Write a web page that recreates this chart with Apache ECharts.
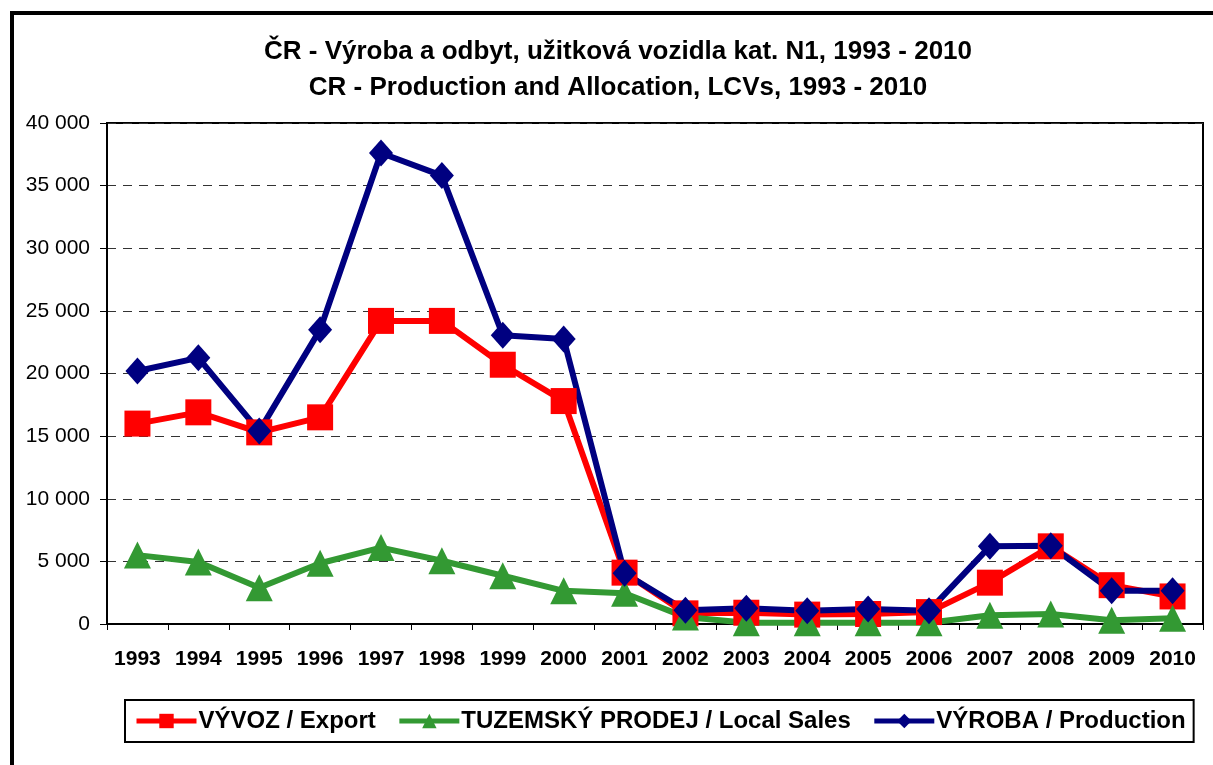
<!DOCTYPE html>
<html><head><meta charset="utf-8">
<script src="https://cdn.jsdelivr.net/npm/echarts@6/dist/echarts.min.js"></script>
<style>html,body{margin:0;padding:0;background:#fff;}#c{width:1213px;height:765px;}</style>
</head><body><div id="c"></div>
<script>
const years = ['1993','1994','1995','1996','1997','1998','1999','2000','2001','2002','2003','2004','2005','2006','2007','2008','2009','2010'];
const exportVals = [16000,16900,15300,16500,24200,24200,20700,17800,4100,850,900,750,800,950,3300,6200,3100,2200];
const localSales = [5500,4950,2900,4850,6100,5050,3850,2650,2450,550,100,100,100,100,700,800,300,450];
const production = [20200,21250,15400,23500,37600,35800,23050,22750,4050,1100,1250,1050,1200,1050,6200,6250,2650,2650];
const seriesNames = ['VÝVOZ / Export','TUZEMSKÝ PRODEJ / Local Sales','VÝROBA / Production'];
const titleText = 'ČR - Výroba a odbyt, užitková vozidla kat. N1, 1993 - 2010\nCR - Production and Allocation, LCVs, 1993 - 2010';

const chart = echarts.init(document.getElementById('c'));
const fam = '"Liberation Sans", Arial, sans-serif';
const fmt = v => String(v).replace(/\B(?=(\d{3})+(?!\d))/g, ' ');
chart.setOption({
  animation: false,
  backgroundColor: '#fff',
  textStyle: {fontFamily: fam},
  graphic: [{type:'rect', shape:{x:12, y:13, width:1215, height:770}, style:{fill:'none', stroke:'#000', lineWidth:4}, z:100}],
  title: {text: titleText, left: 613, textAlign: 'center', top: 29, textStyle:{fontFamily: fam, fontSize:26, fontWeight:'bold', lineHeight:36, color:'#000'}},
  legend: {
    left: 125, top: 700, orient:'horizontal',
    padding: [9, 8, 9, 9], itemGap: 21, itemWidth: 60, itemHeight: 18,
    borderColor: '#000', borderWidth: 2,
    lineStyle: {width: 5},
    textStyle: {fontFamily: fam, fontSize: 24, fontWeight: 'bold', color:'#000', padding:[0,0,0,-3]},
    data: seriesNames
  },
  grid: {left:107, top:123, right:10, bottom:141, show:true, borderColor:'#000', borderWidth:2, backgroundColor:'transparent'},
  xAxis: {
    type:'category', data: years, boundaryGap: true,
    axisLine:{lineStyle:{color:'#000', width:2}},
    axisTick:{show:true, length:6, lineStyle:{color:'#000', width:1}},
    axisLabel:{fontFamily: fam, fontSize:21, fontWeight:'bold', color:'#000', margin:25}
  },
  yAxis: {
    type:'value', min:0, max:40000, interval:5000,
    axisLine:{show:true, lineStyle:{color:'#000', width:2}},
    axisTick:{show:true, length:7, lineStyle:{color:'#000'}},
    axisLabel:{fontFamily: fam, fontSize:21, color:'#000', margin:17, formatter: fmt},
    splitLine:{show:true, lineStyle:{color:'#333', type:[9,7], width:1.2}}
  },
  series: [
    {name: seriesNames[0], type:'line', data: exportVals, symbol:'rect', symbolSize:26,
     lineStyle:{color:'#FF0000', width:6}, itemStyle:{color:'#FF0000'}},
    {name: seriesNames[1], type:'line', data: localSales, symbol:'triangle', symbolSize:27,
     lineStyle:{color:'#339933', width:6}, itemStyle:{color:'#339933'}},
    {name: seriesNames[2], type:'line', data: production, symbol:'diamond', symbolSize:[24,27],
     lineStyle:{color:'#000080', width:6}, itemStyle:{color:'#000080'}}
  ]
});
</script></body></html>
